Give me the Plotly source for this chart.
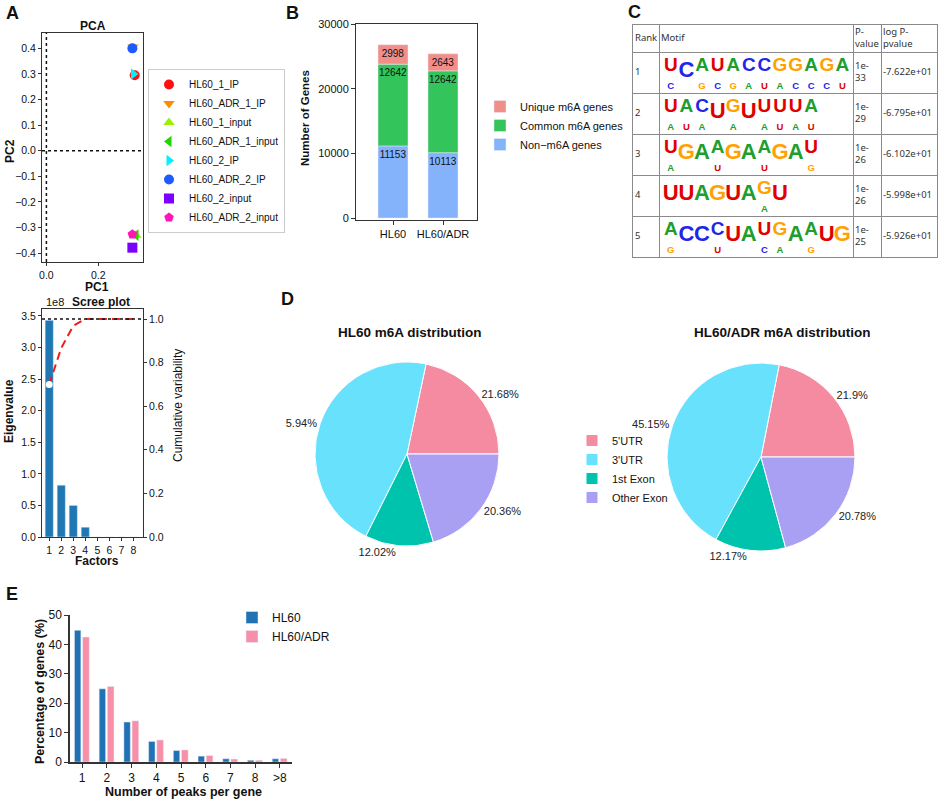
import plotly.graph_objects as go

W, H = 941, 801
def fx(px): return px / W
def fy(py): return 1 - py / H
def xd(a, b): return [fx(a), fx(b)]
def yd(a, b): return [fy(b), fy(a)]

# ---------------- Data ----------------
# Panel A: PCA
pca_samples = ["HL60_1_IP", "HL60_ADR_1_IP", "HL60_1_input", "HL60_ADR_1_input",
               "HL60_2_IP", "HL60_ADR_2_IP", "HL60_2_input", "HL60_ADR_2_input"]
pca_pc1 = [0.341, 0.334, 0.346, 0.346, 0.336, 0.332, 0.332, 0.332]
pca_pc2 = [0.295, 0.405, -0.330, -0.330, 0.300, 0.400, -0.379, -0.327]

# Panel A: scree plot
factors = [1, 2, 3, 4, 5, 6, 7, 8]
eigenvalues = [3.43e8, 0.82e8, 0.50e8, 0.155e8, 0.0, 0.0, 0.0, 0.0]
cumulative = [0.70, 0.867, 0.969, 1.0, 1.0, 1.0, 1.0, 1.0]
eig_ticks = [0.0, 0.5, 1.0, 1.5, 2.0, 2.5, 3.0, 3.5]
eig_ticklabels = ["0.0", "0.5", "1.0", "1.5", "2.0", "2.5", "3.0", "3.5"]

# Panel B: gene counts
groups = ["HL60", "HL60/ADR"]
non_m6a = [11153, 10113]
common_m6a = [12642, 12642]
unique_m6a = [2998, 2643]

# Panel C: motif table
table_header = ["Rank", "Motif", "P-<br>value", "log P-<br>pvalue"]
ranks = ["1", "2", "3", "4", "5"]
motif_top = ["UCAUACCGGAGA", "UACUGUUUUA", "UGAAGAAGAU", "UUAGUAGU", "ACCCUAUGAAUG"]
motif_sub = ["C.GCGAUACCCU", "AUA.A.AUAU", "A..U..U..G", "......A.", "G..U..CA.G.."]
pvalues = ["1e-<br>33", "1e-<br>29", "1e-<br>26", "1e-<br>26", "1e-<br>25"]
log_pvalues = ["-7.622e+01", "-6.795e+01", "-6.102e+01", "-5.998e+01", "-5.926e+01"]

# Panel D: m6A distribution
regions = ["5'UTR", "3'UTR", "1st Exon", "Other Exon"]
hl60_pct = [21.68, 45.94, 12.02, 20.36]
hl60_labels = ["21.68%", "5.94%", "12.02%", "20.36%"]
adr_pct = [21.9, 45.15, 12.17, 20.78]
adr_labels = ["21.9%", "45.15%", "12.17%", "20.78%"]

# Panel E: peaks per gene
peak_cats = ["1", "2", "3", "4", "5", "6", "7", "8", ">8"]
hl60_peaks = [44.8, 24.9, 13.6, 7.0, 3.9, 2.0, 1.1, 0.6, 1.1]
adr_peaks = [42.5, 25.7, 14.0, 7.5, 4.1, 2.2, 1.0, 0.6, 1.2]

# ---------------- Styles ----------------
FONT = "Liberation Sans, Arial, sans-serif"
LINE = "#333333"
pca_symbols = ["circle", "triangle-down", "triangle-up", "triangle-left",
               "triangle-right", "circle", "square", "pentagon"]
pca_colors = ["#FF1010", "#FF8C00", "#99F000", "#22D400", "#00F0FF", "#1E5BFF", "#7A00FF", "#FF14B4"]
letter_colors = {"A": "#1E9E2E", "C": "#1F26E8", "G": "#FFA100", "U": "#E00000"}
pie_colors = ["#F58BA0", "#68E1FD", "#00C3AD", "#A9A0F4"]
col_widths = [26, 194, 28, 56]
header_h, row_h = 27, 41
letter_step = 15.6

fig = go.Figure()

# PCA points
for i, name in enumerate(pca_samples):
    fig.add_trace(go.Scatter(
        x=[pca_pc1[i]], y=[pca_pc2[i]], mode="markers", name=name,
        marker=dict(symbol=pca_symbols[i], color=pca_colors[i], size=10, line=dict(width=0)),
        xaxis="x", yaxis="y", legend="legend"))

# Scree bars + cumulative
fig.add_trace(go.Bar(x=factors, y=eigenvalues, marker_color="#1F77B4", width=0.68,
                     xaxis="x2", yaxis="y2", showlegend=False))
fig.add_trace(go.Scatter(x=factors, y=cumulative, mode="lines",
                         line=dict(color="#EE1C1C", width=2, dash="8px,5px"),
                         xaxis="x2", yaxis="y3", showlegend=False))
fig.add_trace(go.Scatter(x=factors[:1], y=cumulative[:1], mode="markers",
                         marker=dict(color="white", size=7, line=dict(width=0)),
                         xaxis="x2", yaxis="y3", showlegend=False))

# Panel B stacked bars (stack via base)
base_common = list(non_m6a)
base_unique = [a + b for a, b in zip(non_m6a, common_m6a)]
bar_common = dict(xaxis="x3", yaxis="y4", legend="legend2", width=0.6,
                  textposition="inside", insidetextanchor="end", constraintext="none",
                  textfont=dict(size=10, color="#111111"), textangle=0)
fig.add_trace(go.Bar(x=groups, y=non_m6a, name="Non\u2212m6A genes", marker_color="#85B3FB",
                     text=[str(v) for v in non_m6a], **bar_common))
fig.add_trace(go.Bar(x=groups, y=common_m6a, base=base_common, name="Common m6A genes",
                     marker_color="#34C45C", text=[str(v) for v in common_m6a], **bar_common))
fig.add_trace(go.Bar(x=groups, y=unique_m6a, base=base_unique, name="Unique m6A genes",
                     marker_color="#F28E89", text=[str(v) for v in unique_m6a], **bar_common))

# Panel C table drawn on its own axes (grid lines = cell borders)
col_edges = [0]
for w in col_widths:
    col_edges.append(col_edges[-1] + w)
row_edges = [0, header_h] + [header_h + row_h * (k + 1) for k in range(len(ranks))]
row_centers = [(row_edges[k + 1] + row_edges[k + 2]) / 2 for k in range(len(ranks))]
hdr_center = header_h / 2

tbl_font = dict(family="Noto Sans, Open Sans", size=9.5, color="#333333")
fig.add_trace(go.Scatter(x=[e + 2 for e in col_edges[:4]], y=[hdr_center] * 4, text=table_header,
                         mode="text", textposition="middle right", textfont=tbl_font,
                         xaxis="x5", yaxis="y6", showlegend=False, hoverinfo="skip", cliponaxis=False))
for col, vals in ((0, ranks), (2, pvalues), (3, log_pvalues)):
    fig.add_trace(go.Scatter(x=[col_edges[col] + 2] * len(vals), y=row_centers, text=vals,
                             mode="text", textposition="middle right", textfont=tbl_font,
                             xaxis="x5", yaxis="y6", showlegend=False, hoverinfo="skip",
                             cliponaxis=False))

lx, ly, lt, lc, ls = [], [], [], [], []
for r, (top, sub) in enumerate(zip(motif_top, motif_sub)):
    for i, ch in enumerate(top):
        xc = col_edges[1] + 4 + (i + 0.5) * letter_step
        has_sub = sub[i] != "."
        lx.append(xc)
        ly.append(row_centers[r] - (6 if has_sub else 1))
        lt.append(ch)
        lc.append(letter_colors[ch])
        ls.append(19 if has_sub else 22)
        if has_sub:
            lx.append(xc)
            ly.append(row_centers[r] + 14)
            lt.append(sub[i])
            lc.append(letter_colors[sub[i]])
            ls.append(9.5)
fig.add_trace(go.Scatter(x=lx, y=ly, text=[f"<b>{t}</b>" for t in lt], mode="text",
                         textposition="middle center",
                         textfont=dict(family="Liberation Sans, Arial", size=ls, color=lc),
                         xaxis="x5", yaxis="y6", showlegend=False, hoverinfo="skip", cliponaxis=False))

# Panel D pies (first slice ends at 3 o'clock, then counter-clockwise)
pie_common = dict(textinfo="text", textposition="outside", sort=False,
                  direction="counterclockwise",
                  marker=dict(colors=pie_colors, line=dict(color="white", width=1)),
                  textfont=dict(size=11, color="#222222"), legend="legend3", hoverinfo="label+percent")
fig.add_trace(go.Pie(labels=regions, values=hl60_pct, text=hl60_labels,
                     rotation=90 - hl60_pct[0] / sum(hl60_pct) * 360,
                     domain=dict(x=xd(315, 499), y=yd(362, 546)), showlegend=True, **pie_common))
fig.add_trace(go.Pie(labels=regions, values=adr_pct, text=adr_labels,
                     rotation=90 - adr_pct[0] / sum(adr_pct) * 360,
                     domain=dict(x=xd(667, 855), y=yd(363, 551)), showlegend=False, **pie_common))

# Panel E grouped bars
fig.add_trace(go.Bar(x=peak_cats, y=hl60_peaks, name="HL60", marker_color="#2172B5",
                     width=0.26, offset=-0.31, xaxis="x4", yaxis="y5", legend="legend4"))
fig.add_trace(go.Bar(x=peak_cats, y=adr_peaks, name="HL60/ADR", marker_color="#F88FA9",
                     width=0.27, offset=0.02, xaxis="x4", yaxis="y5", legend="legend4"))

# ---------------- Layout ----------------
ax_common = dict(showgrid=False, zeroline=False, showline=True, linecolor=LINE, linewidth=1,
                 ticks="outside", ticklen=4, tickcolor=LINE, automargin=False,
                 tickfont=dict(size=11, color="#111"))
ax_a = {**ax_common, "ticklen": 3, "tickfont": dict(size=10.5, color="#111")}
ax_e = {**ax_common, "linewidth": 1.5, "tickfont": dict(size=12, color="#111")}

shapes = [
    dict(type="line", xref="x", yref="y domain", x0=0, x1=0, y0=0, y1=1,
         line=dict(color="#111", width=1.5, dash="dot")),
    dict(type="line", xref="x domain", yref="y", x0=0, x1=1, y0=0, y1=0,
         line=dict(color="#111", width=1.5, dash="dot")),
    dict(type="line", xref="x2 domain", yref="y3", x0=0, x1=1.0, y0=1.0, y1=1.0,
         line=dict(color="#111", width=1.5, dash="dot")),
]

annotations = []
def ann(text, px, py, size=12, angle=0, color="#111"):
    annotations.append(dict(text=text, x=fx(px), y=fy(py), xref="paper", yref="paper",
                            showarrow=False, xanchor="center", yanchor="middle", textangle=angle,
                            font=dict(size=size, color=color)))

ann("<b>A</b>", 12, 13, 18)
ann("<b>B</b>", 292, 13, 18)
ann("<b>C</b>", 634, 12, 18)
ann("<b>D</b>", 287, 299, 18)
ann("<b>E</b>", 12, 594, 18)
ann("<b>PCA</b>", 93, 26, 12)
ann("<b>Scree plot</b>", 101, 302, 12)
ann("1e8", 55, 302, 11)
ann("<b>HL60 m6A distribution</b>", 410, 332, 13.5)
ann("<b>HL60/ADR m6A distribution</b>", 782, 332, 13.5)
# axis titles
ann("<b>PC2</b>", 10, 151, 12, -90)
ann("<b>PC1</b>", 97, 287, 12)
ann("<b>Eigenvalue</b>", 9, 411, 12, -90)
ann("<b>Factors</b>", 97, 561, 12)
ann("Cumulative variability", 178, 406, 12, -90)
ann("<b>Number of Genes</b>", 305, 118, 11.5, -90)
ann("<b>Percentage of genes (%)</b>", 40, 692, 12.5, -90)
ann("<b>Number of peaks per gene</b>", 183, 792, 12.5)

fig.update_layout(
    width=W, height=H, margin=dict(l=0, r=0, t=0, b=0, autoexpand=False),
    paper_bgcolor="white", plot_bgcolor="white",
    font=dict(family=FONT, color="#111"),
    barmode="overlay",
    shapes=shapes, annotations=annotations,
    xaxis=dict(domain=xd(42, 143), range=[-0.017, 0.373], tickvals=[0.0, 0.2], ticktext=["0.0", "0.2"],
               mirror=True, anchor="y", **ax_a),
    yaxis=dict(domain=yd(33, 262), range=[-0.435, 0.46], dtick=0.1, tickformat=".1f",
               mirror=True, anchor="x", **ax_a),
    xaxis2=dict(domain=xd(42, 143), range=[0.4, 8.8], tickvals=factors,
                mirror=True, anchor="y2", **ax_a),
    yaxis2=dict(domain=yd(309, 537), range=[0, 3.61e8], tickvals=[v * 1e8 for v in eig_ticks],
                ticktext=eig_ticklabels, mirror=True, anchor="x2", **ax_a),
    yaxis3=dict(overlaying="y2", side="right", anchor="x2", range=[0, 1.046],
                tickvals=[0, 0.2, 0.4, 0.6, 0.8, 1.0], tickformat=".1f", **ax_a),
    xaxis3=dict(domain=xd(356, 477), type="category", range=[-0.74, 1.68], mirror=True,
                anchor="y4", **ax_common),
    yaxis4=dict(domain=yd(24, 220), range=[-300, 30000], tickvals=[0, 10000, 20000, 30000],
                tickformat="d", mirror=True, anchor="x3", **ax_common),
    xaxis4=dict(domain=xd(70, 292), type="category", range=[-0.49, 8.49], anchor="y5", **ax_e),
    yaxis5=dict(domain=yd(615, 762), range=[0, 50], dtick=10, anchor="x4", **ax_e),
    xaxis5=dict(domain=xd(633, 937), range=[0, col_edges[-1]], anchor="y6", tickvals=col_edges,
                showgrid=True, gridcolor="#8A8A8A", gridwidth=1, showticklabels=False, ticks="",
                zeroline=False, showline=True, mirror=True, linecolor="#8A8A8A", automargin=False,
                fixedrange=True),
    yaxis6=dict(domain=yd(25, 257), range=[row_edges[-1], 0], anchor="x5", tickvals=row_edges,
                showgrid=True, gridcolor="#8A8A8A", gridwidth=1, showticklabels=False, ticks="",
                zeroline=False, showline=True, mirror=True, linecolor="#8A8A8A", automargin=False,
                fixedrange=True),
    legend=dict(x=fx(148), y=fy(151), xanchor="left", yanchor="middle", bgcolor="white",
                bordercolor="#CCCCCC", borderwidth=1, font=dict(size=10, color="#111"),
                tracegroupgap=0),
    legend2=dict(x=fx(480), y=fy(92), xanchor="left", yanchor="top", traceorder="reversed",
                 font=dict(size=11, color="#111"), bgcolor="rgba(0,0,0,0)"),
    legend3=dict(x=fx(572), y=fy(426), xanchor="left", yanchor="top",
                 font=dict(size=11, color="#111"), bgcolor="rgba(0,0,0,0)"),
    legend4=dict(x=fx(232), y=fy(603), xanchor="left", yanchor="top",
                 font=dict(size=12, color="#111"), bgcolor="rgba(0,0,0,0)"),
)

fig.write_html("out.html", config={"displayModeBar": False},
               post_script="document.body.style.margin='0';document.body.style.overflow='hidden';")
